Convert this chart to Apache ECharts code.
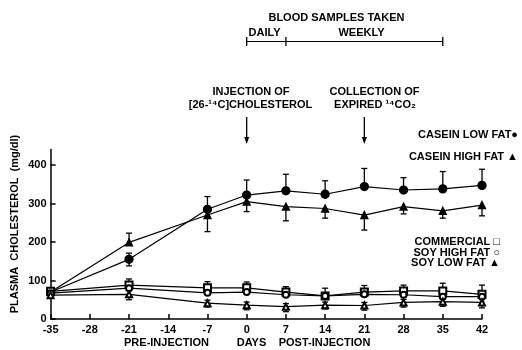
<!DOCTYPE html>
<html>
<head>
<meta charset="utf-8">
<script src="https://cdn.jsdelivr.net/npm/echarts@6/dist/echarts.min.js"></script>
<style>html,body{margin:0;padding:0;background:#fff}#c{width:522px;height:350px}</style>
</head>
<body>
<div id="c"></div>
<script>
// ---- data ----
const days = [-35, -21, -7, 0, 7, 14, 21, 28, 35, 42];
const xTicks = [-35, -28, -21, -14, -7, 0, 7, 14, 21, 28, 35, 42];
const yTicks = [0, 100, 200, 300, 400];

const caseinLow      = [70, 155, 285, 322, 333, 324, 344, 335, 338, 347];
const caseinLowErrHi = [0, 16, 33, 39, 43, 35, 47, 32, 45, 42];
const caseinLowErrLo = [0, 17, 0, 0, 0, 0, 0, 0, 0, 0];

const caseinHigh      = [70, 199, 270, 305, 292, 287, 270, 292, 281, 296];
const caseinHighErrHi = [0, 24, 0, 0, 0, 0, 0, 0, 0, 0];
const caseinHighErrLo = [0, 0, 43, 26, 37, 25, 39, 19, 19, 28];

const commercial      = [72, 88, 81, 81, 70, 60, 70, 73, 73, 64];
const commercialErrHi = [0, 16, 16, 15, 14, 20, 17, 15, 20, 24];
const commercialErrLo = [0, 0, 0, 0, 0, 0, 0, 0, 0, 0];

const soyHigh      = [67, 80, 68, 70, 63, 60, 64, 63, 58, 58];
const soyHighErrHi = [0, 0, 0, 0, 0, 0, 0, 0, 0, 0];
const soyHighErrLo = [0, 0, 0, 0, 0, 0, 0, 0, 0, 0];

const soyLow      = [62, 64, 41, 36, 32, 36, 35, 43, 45, 43];
const soyLowErrHi = [0, 10, 8, 8, 8, 8, 8, 8, 8, 8];
const soyLowErrLo = [0, 14, 10, 12, 13, 10, 12, 12, 12, 14];

// ---- chart ----
const FONT = '"Liberation Sans", "DejaVu Sans", Arial, sans-serif';
const chart = echarts.init(document.getElementById('c'), null, {renderer: 'canvas'});

function lineSeries(name, vals, symbol, size) {
  return {
    name: name, type: 'line', z: 3,
    data: days.map((d, i) => [d, vals[i]]),
    symbol: symbol, symbolSize: size, showAllSymbol: true,
    lineStyle: {color: '#000', width: 1.2},
    itemStyle: {color: '#000', borderColor: '#000', borderWidth: 1.3},
    emphasis: {disabled: true}
  };
}
function errSeries(vals, hi, lo) {
  return {
    type: 'custom', z: 2, clip: false, silent: true,
    encode: {x: 0, y: 1},
    data: days.map((d, i) => [d, vals[i], hi[i], lo[i]]),
    renderItem: function (params, api) {
      const x = api.value(0), y = api.value(1), h = api.value(2), l = api.value(3);
      const top = api.coord([x, y + h]);
      const bot = api.coord([x, y - l]);
      const st = {stroke: '#000', lineWidth: 1.3};
      const ch = [];
      if (h > 0 || l > 0) {
        ch.push({type: 'line', shape: {x1: top[0], y1: top[1], x2: bot[0], y2: bot[1]}, style: st});
      }
      if (h > 0) ch.push({type: 'line', shape: {x1: top[0] - 3, y1: top[1], x2: top[0] + 3, y2: top[1]}, style: st});
      if (l > 0) ch.push({type: 'line', shape: {x1: bot[0] - 3, y1: bot[1], x2: bot[0] + 3, y2: bot[1]}, style: st});
      return {type: 'group', children: ch};
    }
  };
}

const axisText = {color: '#000', fontSize: 11, fontWeight: 'bold', fontFamily: FONT};

chart.setOption({
  animation: false,
  backgroundColor: '#fff',
  grid: {left: 50.6, right: 40, top: 149.6, bottom: 31},
  xAxis: {
    type: 'value', min: -35, max: 42, interval: 7,
    axisLine: {lineStyle: {color: '#000', width: 1.5}},
    axisTick: {show: true, inside: true, length: 5, lineStyle: {color: '#000', width: 1.5}, customValues: xTicks},
    axisLabel: Object.assign({margin: 5, customValues: xTicks}, axisText),
    splitLine: {show: false}
  },
  yAxis: {
    type: 'value', min: 0, max: 440, interval: 100,
    axisLine: {show: true, onZero: false, lineStyle: {color: '#000', width: 1.5}},
    axisTick: {show: true, inside: true, length: 5, lineStyle: {color: '#000', width: 1.5}, customValues: yTicks},
    axisLabel: Object.assign({margin: 4, customValues: yTicks}, axisText),
    splitLine: {show: false}
  },
  series: [
    errSeries(caseinLow, caseinLowErrHi, caseinLowErrLo),
    errSeries(caseinHigh, caseinHighErrHi, caseinHighErrLo),
    errSeries(commercial, commercialErrHi, commercialErrLo),
    errSeries(soyHigh, soyHighErrHi, soyHighErrLo),
    errSeries(soyLow, soyLowErrHi, soyLowErrLo),
    lineSeries('CASEIN LOW FAT', caseinLow, 'circle', 8),
    lineSeries('CASEIN HIGH FAT', caseinHigh, 'triangle', 7),
    lineSeries('COMMERCIAL', commercial, 'emptyRect', 7),
    lineSeries('SOY HIGH FAT', soyHigh, 'emptyCircle', 6),
    lineSeries('SOY LOW FAT', soyLow, 'emptyTriangle', 6)
  ]
});

// ---- annotations (positions tied to the day axis where relevant) ----
function px(d) { return chart.convertToPixel({gridIndex: 0}, [d, 0])[0]; }
const x0 = px(0), x7 = px(7), x21 = px(21), x35 = px(35);
const tStyle = (text, x, y, align) => ({
  type: 'text', x: x, y: y, silent: true,
  style: {text: text, fill: '#000', font: 'bold 11px ' + FONT, align: align || 'center', verticalAlign: 'middle'}
});
const ln = (x1, y1, x2, y2, w) => ({type: 'line', silent: true, shape: {x1, y1, x2, y2}, style: {stroke: '#000', lineWidth: w || 1.3}});
const arrowHead = (x, y) => ({type: 'polygon', silent: true, shape: {points: [[x - 2.5, y - 7], [x + 2.5, y - 7], [x, y]]}, style: {fill: '#000'}});

chart.setOption({
  graphic: [
    tStyle('BLOOD SAMPLES TAKEN', 336.5, 18),
    tStyle('DAILY', 264.5, 33),
    tStyle('WEEKLY', 361.5, 33),
    ln(x0, 41.5, x35, 41.5, 1.2),
    ln(x0, 37, x0, 46, 1.3),
    ln(x7, 37, x7, 46, 1.3),
    ln(x35, 37, x35, 46, 1.3),
    tStyle('INJECTION OF', 251, 92),
    tStyle('[26-¹⁴C]CHOLESTEROL', 250.5, 105),
    tStyle('COLLECTION OF', 374.5, 92),
    tStyle('EXPIRED ¹⁴CO₂', 375, 105),
    ln(x0, 117, x0, 138, 1.3), arrowHead(x0, 144),
    ln(x21, 117, x21, 138, 1.3), arrowHead(x21, 144),
    tStyle('CASEIN LOW FAT●', 518, 135, 'right'),
    tStyle('CASEIN HIGH FAT ▲', 518, 157, 'right'),
    tStyle('COMMERCIAL □', 500, 242, 'right'),
    tStyle('SOY HIGH FAT ○', 500, 252.5, 'right'),
    tStyle('SOY LOW FAT ▲', 500, 263, 'right'),
    tStyle('PRE-INJECTION', 166.5, 343),
    tStyle('DAYS', 251.5, 343),
    tStyle('POST-INJECTION', 324.5, 343),
    {
      type: 'text', x: 15, y: 224, rotation: Math.PI / 2, silent: true,
      style: {text: 'PLASMA  CHOLESTEROL  (mg/dl)', fill: '#000', font: 'bold 11px ' + FONT, align: 'center', verticalAlign: 'middle'}
    }
  ]
});
</script>
</body>
</html>
